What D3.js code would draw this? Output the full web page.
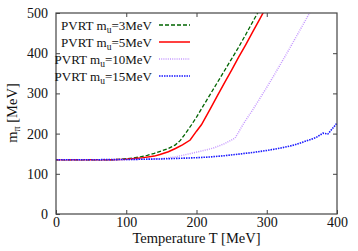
<!DOCTYPE html>
<html>
  <head>
    <meta charset="utf-8" />
    <title>pion mass vs T</title>
    <script src="https://cdn.jsdelivr.net/npm/d3@7"></script>
    <style type="text/css">
      body { margin: 0; background: white; }
      text { font-family: 'Liberation Serif', 'DejaVu Serif', serif; fill: #111; }
    </style>
  </head>

  <body>
    <svg id="chart" width="358" height="251"></svg>
    <script type="text/javascript">
      // data (T in MeV, m_pi in MeV)
      var xTicks = [0, 100, 200, 300, 400];
      var yTicks = [0, 100, 200, 300, 400, 500];
      var legendNames = ['3MeV', '5MeV', '10MeV', '15MeV'];

      var tGreen = [0, 40, 80, 90, 100, 110, 120, 130, 140, 150, 160, 170, 177, 185, 193, 200, 210, 220, 230, 240, 250, 260, 270, 280, 290];
      var mGreen = [135, 135, 135, 136, 137.5, 139.5, 142, 146, 151, 157, 163, 172, 183, 202, 222, 241, 270, 299, 328, 357, 386, 415, 446, 478, 509];

      var tRed = [0, 40, 80, 100, 120, 140, 148, 160, 170, 180, 191, 200, 207, 220, 230, 240, 250, 260, 270, 280, 290, 300];
      var mRed = [135, 135, 135, 136, 139, 144, 148, 155, 163, 172, 184, 206, 222, 263, 295, 327, 358, 390, 421, 453, 485, 517];

      var tPurple = [0, 50, 100, 120, 148, 170, 195, 210, 224, 240, 255, 266, 270, 280, 290, 300, 310, 320, 330, 340, 350, 360, 370];
      var mPurple = [135, 135, 135, 136, 137.5, 142, 152, 158, 164, 175, 189, 222, 233, 259, 287, 315, 344, 374, 404, 435, 466, 497, 528];

      var tBlue = [0, 50, 100, 150, 200, 220, 240, 260, 280, 300, 320, 340, 360, 370, 380, 387, 400];
      var mBlue = [135, 135, 135.5, 137, 140, 142, 145, 149, 153, 158, 164, 172, 184, 190, 201, 199, 226];

      var series = [
        { t: tGreen, m: mGreen, color: '#006400', dash: '4,2', w: 1.3 },
        { t: tRed, m: mRed, color: '#ff0000', dash: null, w: 1.5 },
        { t: tPurple, m: mPurple, color: '#c497ff', dash: '1,1.2', w: 1.5 },
        { t: tBlue, m: mBlue, color: '#1a1aff', dash: '1.5,1', w: 1.6 }
      ];

      function makeChart() {
        // plot box in pixels (window.top is reserved, so use pl/pr/pt/pb)
        var pl = 56, pr = 337, pt = 13, pb = 214;
        var svg = d3.select('#chart');

        var scX = d3.scaleLinear().domain([0, 400]).range([pl, pr]);
        var scY = d3.scaleLinear().domain([0, 500]).range([pb, pt]);

        svg.append('defs').append('clipPath').attr('id', 'clip')
          .append('rect')
          .attr('x', pl).attr('y', pt)
          .attr('width', pr - pl).attr('height', pb - pt);

        // inward ticks on all four sides, gnuplot style
        var axisCol = '#444';
        function styleAxis(g) {
          g.select('.domain').remove();
          g.selectAll('.tick line').attr('stroke', axisCol);
          g.selectAll('.tick text').style('font-size', '14px').attr('fill', '#111');
        }
        svg.append('g').attr('transform', 'translate(0,' + pb + ')')
          .call(d3.axisBottom(scX).tickValues(xTicks).tickSize(-4).tickPadding(3))
          .call(styleAxis);
        svg.append('g').attr('transform', 'translate(0,' + pt + ')')
          .call(d3.axisTop(scX).tickValues(xTicks.slice(1, -1)).tickSize(-4).tickFormat(''))
          .call(styleAxis);
        svg.append('g').attr('transform', 'translate(' + pl + ',0)')
          .call(d3.axisLeft(scY).tickValues(yTicks).tickSize(-4).tickPadding(8))
          .call(styleAxis);
        svg.append('g').attr('transform', 'translate(' + pr + ',0)')
          .call(d3.axisRight(scY).tickValues(yTicks.slice(1, -1)).tickSize(-4).tickFormat(''))
          .call(styleAxis);

        var lineMaker = d3.line()
          .x((d) => scX(d[0]))
          .y((d) => scY(d[1]));

        var gLines = svg.append('g').attr('clip-path', 'url(#clip)');
        series.forEach(function (s) {
          var pts = s.t.map((t, i) => [t, s.m[i]]);
          gLines.append('path')
            .attr('fill', 'none')
            .attr('stroke', s.color)
            .attr('stroke-width', s.w)
            .attr('stroke-dasharray', s.dash)
            .attr('d', lineMaker(pts));
        });

        // frame
        svg.append('rect')
          .attr('x', pl).attr('y', pt)
          .attr('width', pr - pl).attr('height', pb - pt)
          .attr('fill', 'none').attr('stroke', axisCol).attr('stroke-width', 1.2);

        // legend
        var leg = svg.append('g');
        series.forEach(function (s, i) {
          var y = 25 + i * 17;
          var t = leg.append('text')
            .attr('x', 152).attr('y', y + 5)
            .attr('text-anchor', 'end')
            .style('font-size', '13px');
          t.append('tspan').text('PVRT m');
          t.append('tspan').attr('dy', 3).style('font-size', '9.5px').text('u');
          t.append('tspan').attr('dy', -3).text('=' + legendNames[i]);
          leg.append('line')
            .attr('x1', 159).attr('x2', 190)
            .attr('y1', y).attr('y2', y)
            .attr('stroke', s.color)
            .attr('stroke-width', s.w)
            .attr('stroke-dasharray', s.dash);
        });

        // axis titles
        svg.append('text')
          .attr('x', (pl + pr) / 2).attr('y', 243)
          .attr('text-anchor', 'middle')
          .style('font-size', '14.5px')
          .text('Temperature T [MeV]');

        var yl = svg.append('text')
          .attr('transform', 'translate(17,113) rotate(-90)')
          .attr('text-anchor', 'middle')
          .style('font-size', '14.5px');
        yl.append('tspan').text('m');
        yl.append('tspan').attr('dy', 3).style('font-size', '10px').text('π');
        yl.append('tspan').attr('dy', -3).text(' [MeV]');
      }

      makeChart();
    </script>
  </body>
</html>
